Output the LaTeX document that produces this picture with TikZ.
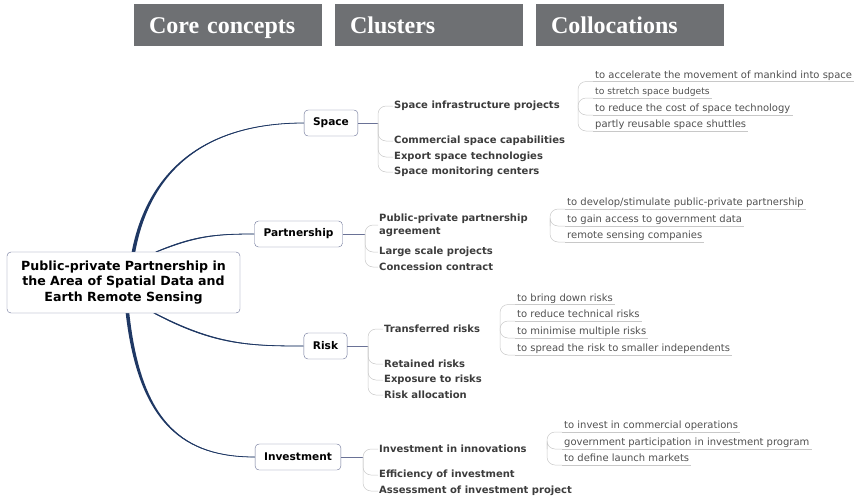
\documentclass[tikz,border=0pt]{standalone}
\usepackage{fontspec}
\setmainfont{DejaVu Sans}
\newfontfamily\headfont{Liberation Serif}
\usepackage{tikz}
\usetikzlibrary{positioning, backgrounds}

\definecolor{headgray}{HTML}{6E7073}
\definecolor{navy}{HTML}{1F3864}
\definecolor{boxline}{HTML}{6A7296}
\definecolor{clustertext}{HTML}{3C3C3C}
\definecolor{colloctext}{HTML}{505050}
\definecolor{twiggray}{HTML}{C8C8C8}

\begin{document}
\begin{tikzpicture}[
      x=1pt, y=-1pt,
      header/.style  = {rectangle, fill=headgray, text=white, inner xsep=15pt,
        inner ysep=0pt, text width=158pt, text height=19pt, text depth=3pt,
        minimum height=42pt, align=left,
        font=\headfont\fontsize{24}{26}\selectfont\bfseries},
      root/.style    = {rectangle, draw=boxline, rounded corners=4pt, fill=white,
        minimum width=233pt, minimum height=61pt, align=center,
      font=\fontsize{12.6}{15.5}\selectfont\bfseries},
      concept/.style = {rectangle, draw=boxline, rounded corners=4pt, fill=white,
        inner xsep=9pt, minimum height=26pt,
      font=\fontsize{10.6}{12}\selectfont\bfseries},
      cluster/.style = {anchor=west, inner sep=1pt, align=left, text=clustertext,
      font=\fontsize{10}{13}\selectfont\bfseries},
      colloc/.style  = {anchor=south west, inner xsep=2pt, inner ysep=0.5pt,
        text depth=2.5pt, text=colloctext, font=\fontsize{10}{11}\selectfont},
      branch/.style  = {draw=navy, line width=0.8pt},
      taper/.style   = {fill=navy},
      twig/.style    = {draw=twiggray, line width=0.5pt, rounded corners=8pt},
      stem/.style    = {draw=boxline, line width=0.5pt},
      uline/.style   = {draw=twiggray, line width=0.5pt}
    ]
    \useasboundingbox (0,0) rectangle (858,498);

    % ---------------- headers ----------------
    \node[header] (hCore) at (228,25) {Core concepts};
    \node[header] (hClus) at (429,25) {Clusters};
    \node[header] (hColl) at (630,25) {Collocations};

    % ---------------- core concepts ----------------
    \node[root] (root) at (123.5,282.5)
    {Public-private Partnership in\\the Area of Spatial Data and\\Earth Remote Sensing};

    \node[concept] (space)       at (331,123) {Space};
    \node[concept] (partnership) at (298.5,234) {Partnership};
    \node[concept] (risk)        at (325.5,346) {Risk};
    \node[concept] (investment)  at (298,457) {Investment};

    % tapered main branches, behind the root box
    \begin{scope}[on background layer]
      \fill[taper] ([xshift=8.2pt]root.north) .. controls (146.5,175) and (200,122.3) .. (space.west)
        .. controls (200,123.7) and (149.5,175) .. ([xshift=11.8pt]root.north) -- cycle;
      \draw[branch] ([xshift=10pt]root.north) .. controls (148,175) and (200,123) .. (space.west);

      \fill[taper] ([xshift=31.8pt]root.north) .. controls (194,235.3) and (215,233.6) .. (partnership.west)
        .. controls (215,234.4) and (196,236.7) .. ([xshift=34.2pt]root.north) -- cycle;
      \draw[branch] ([xshift=33pt]root.north) .. controls (195,236) and (215,234) .. (partnership.west);

      \fill[taper] ([xshift=29.8pt]root.south) .. controls (214,345.7) and (250,346.4) .. (risk.west)
        .. controls (250,345.6) and (216,344.3) .. ([xshift=32.2pt]root.south) -- cycle;
      \draw[branch] ([xshift=31pt]root.south) .. controls (215,345) and (250,346) .. (risk.west);

      \fill[taper] ([xshift=2.2pt]root.south) .. controls (138.5,425) and (185,457.7) .. (investment.west)
        .. controls (185,456.3) and (141.5,425) .. ([xshift=5.8pt]root.south) -- cycle;
      \draw[branch] ([xshift=4pt]root.south) .. controls (140,425) and (185,457) .. (investment.west);
    \end{scope}

    % ---------------- clusters ----------------
    \node[cluster] (sp1) at (393,106) {Space infrastructure projects};
    \node[cluster] (sp2) at (393,141) {Commercial space capabilities};
    \node[cluster] (sp3) at (393,157) {Export space technologies};
    \node[cluster] (sp4) at (393,172) {Space monitoring centers};

    \node[cluster] (pa1) at (378,225) {Public-private partnership\\agreement};
    \node[cluster] (pa2) at (378,252) {Large scale projects};
    \node[cluster] (pa3) at (378,267) {Concession contract};

    \node[cluster] (ri1) at (383,329) {Transferred risks};
    \node[cluster] (ri2) at (383,364) {Retained risks};
    \node[cluster] (ri3) at (383,380) {Exposure to risks};
    \node[cluster] (ri4) at (383,395) {Risk allocation};

    \node[cluster] (in1) at (378,449) {Investment in innovations};
    \node[cluster] (in2) at (378,475) {Efficiency of investment};
    \node[cluster] (in3) at (378,491) {Assessment of investment project};

    \coordinate (spJ) at (378,123);
    \coordinate (paJ) at (365,234);
    \coordinate (riJ) at (368,346);
    \coordinate (inJ) at (363,457);

    \draw[stem] (space.east) -- (spJ);
    \draw[stem] (partnership.east) -- (paJ);
    \draw[stem] (risk.east) -- (riJ);
    \draw[stem] (investment.east) -- (inJ);

    \foreach \i in {1,...,4} {\draw[twig] (spJ) |- (sp\i.west);}
    \foreach \i in {1,...,3} {\draw[twig] (paJ) |- (pa\i.west);}
    \foreach \i in {1,...,4} {\draw[twig] (riJ) |- (ri\i.west);}
    \foreach \i in {1,...,3} {\draw[twig] (inJ) |- (in\i.west);}

    % ---------------- collocations ----------------
    \node[colloc] (spc1) at (593,81.5) {to accelerate the movement of mankind into space};
    \node[colloc, font=\fontsize{9.2}{10}\selectfont] (spc2) at (593,98) {to stretch space budgets};
    \node[colloc] (spc3) at (593,115) {to reduce the cost of space technology};
    \node[colloc] (spc4) at (593,131) {partly reusable space shuttles};

    \node[colloc] (pac1) at (565,209) {to develop/stimulate public-private partnership};
    \node[colloc] (pac2) at (565,226) {to gain access to government data};
    \node[colloc] (pac3) at (565,242) {remote sensing companies};

    \node[colloc] (ric1) at (515,304.5) {to bring down risks};
    \node[colloc] (ric2) at (515,321) {to reduce technical risks};
    \node[colloc] (ric3) at (515,338) {to minimise multiple risks};
    \node[colloc] (ric4) at (515,355) {to spread the risk to smaller independents};

    \node[colloc] (inc1) at (562,432) {to invest in commercial operations};
    \node[colloc] (inc2) at (562,449) {government participation in investment program};
    \node[colloc] (inc3) at (562,465) {to define launch markets};

    \coordinate (spcJ) at (578,106);
    \coordinate (pacJ) at (550,226);
    \coordinate (ricJ) at (500,330);
    \coordinate (incJ) at (547,449);

    \foreach \n/\k in {spc/4, pac/3, ric/4, inc/3} {
      \foreach \i in {1,...,\k} {
        \draw[uline] (\n\i.south west) -- (\n\i.south east);
        \draw[twig] (\n J) |- (\n\i.south west);
      }
    }

  \end{tikzpicture}
\end{document}
